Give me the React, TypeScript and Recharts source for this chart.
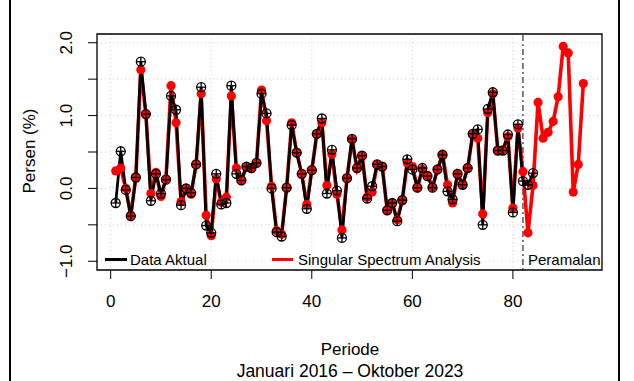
import React from 'react';
import {
  CartesianGrid,
  ComposedChart,
  Line,
  ReferenceArea,
  ReferenceLine,
  XAxis,
  YAxis,
} from 'recharts';

// Inflasi bulanan (persen), data aktual periode 1..84
const aktual = [
  -0.2, 0.51, -0.02, -0.38, 0.15, 1.74, 1.02, -0.17, 0.2, -0.07,
  0.12, 1.27, 1.08, -0.23, 0.0, -0.06, 0.33, 1.39, -0.51, -0.61,
  0.2, -0.22, -0.2, 1.41, 0.2, 0.11, 0.3, 0.28, 0.35, 1.3,
  1.03, 0.0, -0.6, -0.66, 0.01, 0.87, 0.49, 0.2, -0.28, 0.25,
  0.75, 0.96, -0.07, 0.53, -0.03, -0.68, 0.14, 0.68, 0.28, 0.45,
  -0.14, 0.03, 0.33, 0.3, -0.3, -0.2, -0.45, -0.16, 0.4, 0.26,
  0.01, 0.28, 0.17, 0.01, 0.26, 0.46, -0.04, -0.15, 0.2, 0.05,
  0.28, 0.75, 0.81, -0.5, 1.09, 1.32, 0.52, 0.52, 0.74, -0.33,
  0.88, 0.1, 0.05, 0.21,
];

// Hasil SSA: fitted 1..84 + peramalan 85..94
const ssa = [
  0.24, 0.28, 0.0, -0.37, 0.15, 1.63, 1.02, -0.07, 0.22, -0.11,
  0.13, 1.41, 0.9, -0.18, 0.0, -0.08, 0.33, 1.3, -0.37, -0.65,
  0.13, -0.19, -0.12, 1.27, 0.28, 0.11, 0.3, 0.27, 0.35, 1.35,
  0.93, 0.03, -0.58, -0.63, 0.01, 0.9, 0.49, 0.2, -0.22, 0.25,
  0.75, 0.9, 0.04, 0.47, -0.08, -0.57, 0.14, 0.67, 0.27, 0.45,
  -0.12, -0.05, 0.33, 0.3, -0.3, -0.2, -0.43, -0.16, 0.35, 0.3,
  0.01, 0.26, 0.18, 0.02, 0.26, 0.47, 0.05, -0.2, 0.2, 0.05,
  0.28, 0.74, 0.69, -0.35, 1.04, 1.3, 0.52, 0.53, 0.71, -0.27,
  0.83, 0.23, -0.61, 0.04, 1.18, 0.69, 0.77, 0.92, 1.26, 1.95,
  1.86, -0.05, 0.33, 1.44,
];

const xTicks = [0, 20, 40, 60, 80];
const yTicks = [-1, -0.5, 0, 0.5, 1, 1.5, 2];
const yLabelled = [-1, 0, 1, 2];
const batasPeramalan = 82;

const FONT = '"Liberation Sans", Arial, Helvetica, sans-serif';
const RED = '#ff0000';

const data = ssa.map((v, i) => ({
  periode: i + 1,
  ssa: v,
  aktual: i < aktual.length ? aktual[i] : null,
}));

const XTick = ({x, payload}: any) => (
  <text x={x} y={307} textAnchor="middle" fontSize={17} fontFamily={FONT} fill="#000">
    {payload.value}
  </text>
);

const YTick = ({y, payload}: any) => {
  if (!yLabelled.includes(payload.value)) return <g />;
  const label = payload.value.toFixed(1).replace('-', '\u2212');
  return (
    <text
      x={72}
      y={y}
      transform={`rotate(-90, 72, ${y})`}
      textAnchor="middle"
      fontSize={17}
      fontFamily={FONT}
      fill="#000">
      {label}
    </text>
  );
};

const RedDot = (props: any) => {
  const {cx, cy, index} = props;
  if (cy == null) return <g key={`r${index}`} />;
  return <circle key={`r${index}`} cx={cx} cy={cy} r={4.6} fill={RED} stroke="none" />;
};

const BlackDot = (props: any) => {
  const {cx, cy, index} = props;
  if (cy == null) return <g key={`b${index}`} />;
  return (
    <g key={`b${index}`}>
      <circle cx={cx} cy={cy} r={4.5} fill="none" stroke="#000" strokeWidth={1.3} />
      <line x1={cx - 4.5} x2={cx + 4.5} y1={cy} y2={cy} stroke="#000" strokeWidth={1.3} />
      <line x1={cx} x2={cx} y1={cy - 4.5} y2={cy + 4.5} stroke="#000" strokeWidth={1.3} />
    </g>
  );
};

export default function App() {
  return (
    <div style={{position: 'absolute', left: 0, top: 0, width: 634, height: 381, background: '#fff'}}>
      <ComposedChart
        width={634}
        height={381}
        data={data}
        margin={{top: 34, right: 32, bottom: 0, left: 0}}>
        <CartesianGrid stroke="#d3d3d3" strokeDasharray="1 3" />
        <XAxis
          dataKey="periode"
          type="number"
          domain={[-2.72, 97.72]}
          allowDataOverflow
          ticks={xTicks}
          interval={0}
          height={111}
          tickSize={9}
          axisLine={false}
          tickLine={{stroke: '#000'}}
          tick={<XTick />}
          label={() => (
            <g>
              <text x={350} y={355} textAnchor="middle" fontSize={17} fontFamily={FONT} fill="#000">
                Periode
              </text>
              <text x={350} y={377} textAnchor="middle" fontSize={17.5} fontFamily={FONT} fill="#000">
                Januari 2016 {'\u2013'} Oktober 2023
              </text>
            </g>
          )}
        />
        <YAxis
          type="number"
          domain={[-1.12, 2.12]}
          allowDataOverflow
          ticks={yTicks}
          interval={0}
          width={97}
          tickSize={9}
          axisLine={false}
          tickLine={{stroke: '#000'}}
          tick={<YTick />}
          label={() => (
            <text
              x={35}
              y={151}
              transform="rotate(-90, 35, 151)"
              textAnchor="middle"
              fontSize={17}
              fontFamily={FONT}
              fill="#000">
              Persen (%)
            </text>
          )}
        />
        <ReferenceLine x={batasPeramalan} stroke="#000" strokeWidth={1} strokeDasharray="2 3 6 3" />
        <Line
          dataKey="ssa"
          stroke={RED}
          strokeWidth={3.6}
          dot={RedDot}
          activeDot={false}
          isAnimationActive={false}
        />
        <Line
          dataKey="aktual"
          stroke="#000"
          strokeWidth={2.8}
          dot={BlackDot}
          activeDot={false}
          isAnimationActive={false}
        />
        <ReferenceArea
          x1={-2.72}
          x2={97.72}
          y1={-1.12}
          y2={2.12}
          fill="none"
          stroke="#000"
          strokeWidth={1.3}
          ifOverflow="visible"
        />
      </ComposedChart>
      <div
        style={{
          position: 'absolute',
          left: 97,
          top: 250,
          width: 505,
          height: 20,
          fontFamily: FONT,
          fontSize: 15,
          color: '#000',
        }}>
        <div style={{position: 'absolute', left: 8, top: 8, width: 22, height: 3, background: '#000'}} />
        <div style={{position: 'absolute', left: 33, top: 1, lineHeight: '17px'}}>Data Aktual</div>
        <div style={{position: 'absolute', left: 175, top: 8, width: 21, height: 3, background: RED}} />
        <div style={{position: 'absolute', left: 201, top: 1, lineHeight: '17px'}}>Singular Spectrum Analysis</div>
        <div style={{position: 'absolute', left: 431, top: 1, lineHeight: '17px'}}>Peramalan</div>
      </div>
      <div
        style={{
          position: 'absolute',
          left: 9,
          top: 0,
          width: 611,
          height: 390,
          borderLeft: '2px solid #000',
          borderRight: '2px solid #000',
          boxSizing: 'border-box',
        }}
      />
    </div>
  );
}
